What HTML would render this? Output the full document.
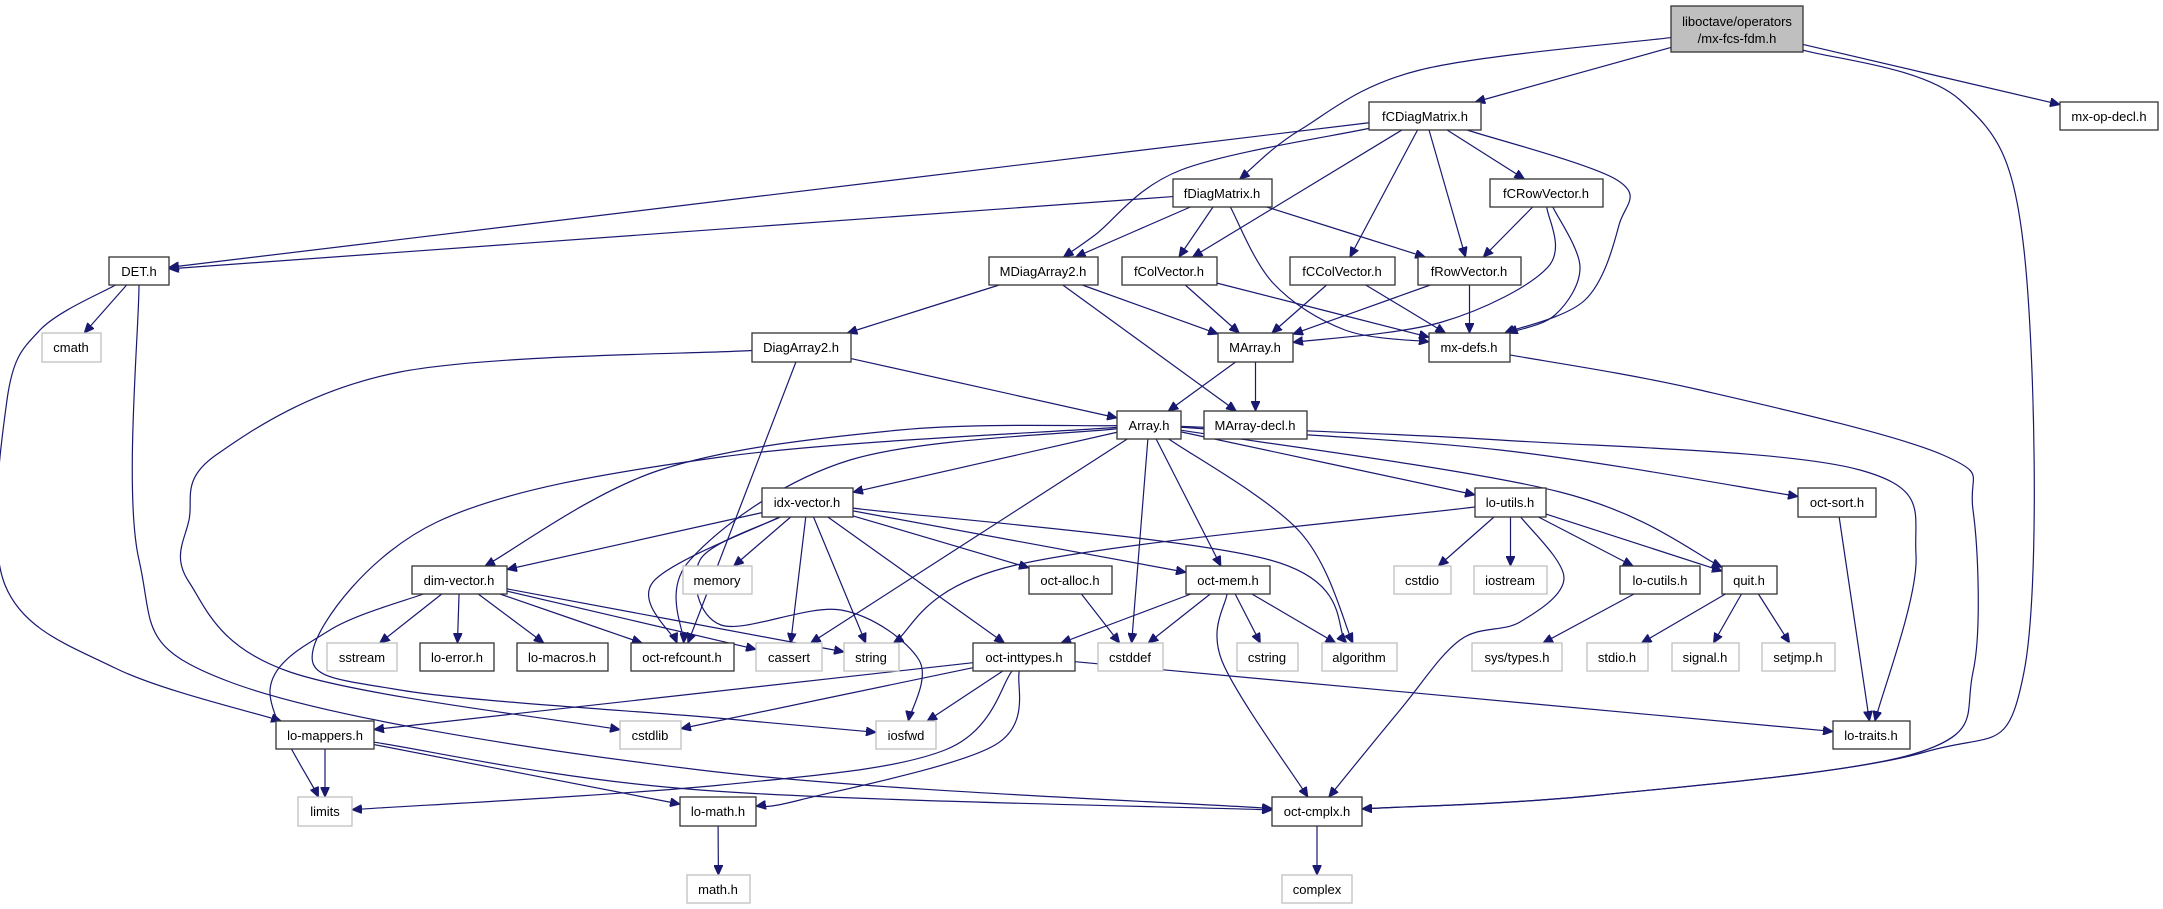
<!DOCTYPE html>
<html><head><meta charset="utf-8">
<style>
html,body{margin:0;padding:0;background:#fff;}
svg{display:block;}
text{font-family:"Liberation Sans",sans-serif;font-size:13px;fill:#000;text-anchor:middle;}
.n rect{fill:#fff;stroke:#333;stroke-width:1.3;}
.g rect{fill:#fff;stroke:#bfbfbf;stroke-width:1.3;}
.r rect{fill:#bfbfbf;stroke:#333;stroke-width:1.3;}
</style></head>
<body>
<svg id="s" width="2163" height="909" viewBox="0 0 2163 909" xmlns="http://www.w3.org/2000/svg">
<defs><marker id="a" markerWidth="11" markerHeight="9" refX="10" refY="4.5" orient="auto" markerUnits="userSpaceOnUse"><path d="M0,0 L10,4.5 L0,9 z" fill="#191970" stroke="#191970"/></marker></defs>
<g id="edges" fill="none" stroke="#191970" stroke-width="1.2"></g>
<g class="r"><rect x="1671" y="6" width="132" height="46"/><text x="1737" y="26">liboctave/operators</text><text x="1737" y="43">/mx-fcs-fdm.h</text></g>
<g class="n"><rect x="1369" y="102" width="112" height="28"/><text x="1425" y="121">fCDiagMatrix.h</text></g>
<g class="n"><rect x="2060" y="102" width="98" height="28"/><text x="2109" y="121">mx-op-decl.h</text></g>
<g class="n"><rect x="1173" y="179" width="99" height="28"/><text x="1222" y="198">fDiagMatrix.h</text></g>
<g class="n"><rect x="1490" y="179" width="113" height="28"/><text x="1546" y="198">fCRowVector.h</text></g>
<g class="n"><rect x="109" y="257" width="60" height="28"/><text x="139" y="276">DET.h</text></g>
<g class="n"><rect x="989" y="257" width="109" height="28"/><text x="1043" y="276">MDiagArray2.h</text></g>
<g class="n"><rect x="1122" y="257" width="95" height="28"/><text x="1169" y="276">fColVector.h</text></g>
<g class="n"><rect x="1290" y="257" width="105" height="28"/><text x="1342" y="276">fCColVector.h</text></g>
<g class="n"><rect x="1418" y="257" width="103" height="28"/><text x="1469" y="276">fRowVector.h</text></g>
<g class="g"><rect x="42" y="333" width="59" height="29"/><text x="71" y="352">cmath</text></g>
<g class="n"><rect x="752" y="333" width="99" height="29"/><text x="801" y="352">DiagArray2.h</text></g>
<g class="n"><rect x="1218" y="333" width="75" height="29"/><text x="1255" y="352">MArray.h</text></g>
<g class="n"><rect x="1429" y="333" width="81" height="29"/><text x="1469" y="352">mx-defs.h</text></g>
<g class="n"><rect x="1117" y="411" width="64" height="28"/><text x="1149" y="430">Array.h</text></g>
<g class="n"><rect x="1204" y="411" width="103" height="28"/><text x="1255" y="430">MArray-decl.h</text></g>
<g class="n"><rect x="762" y="488" width="91" height="29"/><text x="807" y="507">idx-vector.h</text></g>
<g class="n"><rect x="1475" y="488" width="71" height="29"/><text x="1510" y="507">lo-utils.h</text></g>
<g class="n"><rect x="1798" y="488" width="78" height="29"/><text x="1837" y="507">oct-sort.h</text></g>
<g class="n"><rect x="412" y="566" width="95" height="28"/><text x="459" y="585">dim-vector.h</text></g>
<g class="g"><rect x="683" y="566" width="69" height="28"/><text x="717" y="585">memory</text></g>
<g class="n"><rect x="1029" y="566" width="83" height="28"/><text x="1070" y="585">oct-alloc.h</text></g>
<g class="n"><rect x="1186" y="566" width="84" height="28"/><text x="1228" y="585">oct-mem.h</text></g>
<g class="g"><rect x="1394" y="566" width="57" height="28"/><text x="1422" y="585">cstdio</text></g>
<g class="g"><rect x="1474" y="566" width="73" height="28"/><text x="1510" y="585">iostream</text></g>
<g class="n"><rect x="1620" y="566" width="80" height="28"/><text x="1660" y="585">lo-cutils.h</text></g>
<g class="n"><rect x="1722" y="566" width="55" height="28"/><text x="1749" y="585">quit.h</text></g>
<g class="g"><rect x="327" y="643" width="70" height="28"/><text x="362" y="662">sstream</text></g>
<g class="n"><rect x="420" y="643" width="74" height="28"/><text x="457" y="662">lo-error.h</text></g>
<g class="n"><rect x="517" y="643" width="91" height="28"/><text x="562" y="662">lo-macros.h</text></g>
<g class="n"><rect x="631" y="643" width="103" height="28"/><text x="682" y="662">oct-refcount.h</text></g>
<g class="g"><rect x="756" y="643" width="66" height="28"/><text x="789" y="662">cassert</text></g>
<g class="g"><rect x="844" y="643" width="55" height="28"/><text x="871" y="662">string</text></g>
<g class="n"><rect x="973" y="643" width="102" height="28"/><text x="1024" y="662">oct-inttypes.h</text></g>
<g class="g"><rect x="1098" y="643" width="65" height="28"/><text x="1130" y="662">cstddef</text></g>
<g class="g"><rect x="1237" y="643" width="61" height="28"/><text x="1267" y="662">cstring</text></g>
<g class="g"><rect x="1322" y="643" width="75" height="28"/><text x="1359" y="662">algorithm</text></g>
<g class="g"><rect x="1472" y="643" width="90" height="28"/><text x="1517" y="662">sys/types.h</text></g>
<g class="g"><rect x="1587" y="643" width="61" height="28"/><text x="1617" y="662">stdio.h</text></g>
<g class="g"><rect x="1672" y="643" width="67" height="28"/><text x="1705" y="662">signal.h</text></g>
<g class="g"><rect x="1762" y="643" width="73" height="28"/><text x="1798" y="662">setjmp.h</text></g>
<g class="n"><rect x="276" y="721" width="98" height="28"/><text x="325" y="740">lo-mappers.h</text></g>
<g class="g"><rect x="620" y="721" width="61" height="28"/><text x="650" y="740">cstdlib</text></g>
<g class="g"><rect x="876" y="721" width="60" height="28"/><text x="906" y="740">iosfwd</text></g>
<g class="n"><rect x="1833" y="721" width="77" height="28"/><text x="1871" y="740">lo-traits.h</text></g>
<g class="g"><rect x="298" y="797" width="54" height="29"/><text x="325" y="816">limits</text></g>
<g class="n"><rect x="680" y="797" width="76" height="29"/><text x="718" y="816">lo-math.h</text></g>
<g class="n"><rect x="1272" y="797" width="90" height="29"/><text x="1317" y="816">oct-cmplx.h</text></g>
<g class="g"><rect x="687" y="875" width="63" height="28"/><text x="718" y="894">math.h</text></g>
<g class="g"><rect x="1282" y="875" width="70" height="28"/><text x="1317" y="894">complex</text></g>
</svg>
<script>
var N={root:[1671,6,1803,52],fCDM:[1369,102,1481,130],mxop:[2060,102,2158,130],fDM:[1173,179,1272,207],fCRV:[1490,179,1603,207],
DET:[109,257,169,285],MDA:[989,257,1098,285],fCV:[1122,257,1217,285],fCCV:[1290,257,1395,285],fRV:[1418,257,1521,285],
cmath:[42,333,101,362],DA2:[752,333,851,362],MA:[1218,333,1293,362],mxd:[1429,333,1510,362],Arr:[1117,411,1181,439],MAd:[1204,411,1307,439],
idx:[762,488,853,517],lu:[1475,488,1546,517],osort:[1798,488,1876,517],dim:[412,566,507,594],memory:[683,566,752,594],oalloc:[1029,566,1112,594],
omem:[1186,566,1270,594],cstdio:[1394,566,1451,594],iostream:[1474,566,1547,594],lcu:[1620,566,1700,594],quit:[1722,566,1777,594],
sstream:[327,643,397,671],lerr:[420,643,494,671],lmac:[517,643,608,671],oref:[631,643,734,671],cassert:[756,643,822,671],string:[844,643,899,671],
oint:[973,643,1075,671],cstddef:[1098,643,1163,671],cstring:[1237,643,1298,671],algorithm:[1322,643,1397,671],systypes:[1472,643,1562,671],
stdio:[1587,643,1648,671],signal:[1672,643,1739,671],setjmp:[1762,643,1835,671],lmap:[276,721,374,749],cstdlib:[620,721,681,749],
iosfwd:[876,721,936,749],ltr:[1833,721,1910,749],limits:[298,797,352,826],lmath:[680,797,756,826],ocx:[1272,797,1362,826],
mathh:[687,875,750,903],complex:[1282,875,1352,903]};
var E=[
['root','fDM',[[1420,70],[1300,130]]],['root','fCDM'],['root','mxop'],
['root','ocx',[[1960,100],[2024,250],[2024,672],[1925,752],[1600,795]]],
['fCDM','DET'],['fCDM','MDA',[[1181,170],[1095,235]]],['fCDM','fCV'],['fCDM','fCCV'],['fCDM','fRV'],['fCDM','fCRV'],
['fCDM','mxd',[[1617,180],[1619,225],[1585,300]]],
['fDM','DET'],['fDM','MDA'],['fDM','fCV'],['fDM','fRV'],['fDM','mxd',[[1273,283],[1345,330]]],
['fCRV','fRV'],['fCRV','MA',[[1548,267],[1442,322]]],['fCRV','mxd',[[1580,267],[1555,315]]],
['fCV','MA'],['fCV','mxd'],['fCCV','MA'],['fCCV','mxd'],['fRV','MA'],['fRV','mxd'],
['MDA','DA2'],['MDA','MA'],['MDA','MAd'],
['DA2','Arr'],['DA2','oref'],['DA2','cstdlib',[[400,372],[216,455],[189,520],[189,582],[290,672]]],
['DET','cmath'],['DET','lmap',[[40,330],[7,400],[5,585],[115,668]]],['DET','ocx',[[139,560],[230,682],[700,770]]],
['MA','Arr'],['MA','MAd'],['mxd','ocx',[[1700,390],[1943,455],[1973,510],[1973,672],[1920,752],[1600,795]]],
['Arr','dim',[[900,430],[660,470]]],['Arr','idx'],['Arr','oref',[[850,460],[690,560]]],['Arr','cassert'],['Arr','cstddef'],['Arr','omem'],
['Arr','algorithm',[[1300,532]]],['Arr','lu'],['Arr','osort',[[1500,450]]],['Arr','quit',[[1560,492]]],['Arr','ltr',[[1500,440],[1860,470],[1916,555]]],
['Arr','iosfwd',[[721,457],[437,522],[313,650],[400,690],[717,718]]],
['idx','dim'],['idx','memory'],['idx','cassert'],['idx','oref',[[653,582]]],['idx','string'],['idx','oalloc'],['idx','omem'],['idx','oint'],
['idx','algorithm',[[1270,560]]],['idx','iosfwd',[[700,560],[721,625],[841,610],[919,660]]],
['dim','sstream'],['dim','lerr'],['dim','lmac'],['dim','oref'],['dim','cassert'],['dim','string'],['dim','limits',[[330,630],[270,690]]],
['oalloc','cstddef'],['omem','oint'],['omem','cstddef'],['omem','cstring'],['omem','algorithm'],['omem','ocx',[[1222,661]]],
['oint','lmap'],['oint','cstdlib'],['oint','iosfwd'],['oint','limits',[[945,750],[721,785]]],['oint','lmath',[[995,745],[800,800]]],['oint','ltr'],
['lu','cstdio'],['lu','iostream'],['lu','lcu'],['lu','quit'],['lu','string',[[1016,565]]],['lu','ocx',[[1564,578],[1520,622],[1460,640],[1400,710]]],
['lcu','systypes'],['quit','stdio'],['quit','signal'],['quit','setjmp'],['osort','ltr'],
['lmap','limits'],['lmap','lmath'],['lmap','ocx',[[700,790]]],['lmath','mathh'],['ocx','complex']];
function ctr(b){return[(b[0]+b[2])/2,(b[1]+b[3])/2];}
function clip(b,p){var c=ctr(b),dx=p[0]-c[0],dy=p[1]-c[1],hw=(b[2]-b[0])/2,hh=(b[3]-b[1])/2;
var t=Math.min(dx?hw/Math.abs(dx):1e9,dy?hh/Math.abs(dy):1e9);return[c[0]+dx*t,c[1]+dy*t];}
var g=document.getElementById('edges'),ns='http://www.w3.org/2000/svg';
E.forEach(function(e){var s=N[e[0]],d=N[e[1]],v=e[2]||[];
var first=v.length?v[0]:ctr(d),last=v.length?v[v.length-1]:ctr(s);
var p=[clip(s,first)].concat(v,[clip(d,last)]);
var str='M'+p[0][0]+','+p[0][1];
for(var i=0;i<p.length-1;i++){var p0=p[i-1]||p[i],p1=p[i],p2=p[i+1],p3=p[i+2]||p2;
var c1=[p1[0]+(p2[0]-p0[0])/6,p1[1]+(p2[1]-p0[1])/6],c2=[p2[0]-(p3[0]-p1[0])/6,p2[1]-(p3[1]-p1[1])/6];
str+=' C'+c1[0]+','+c1[1]+' '+c2[0]+','+c2[1]+' '+p2[0]+','+p2[1];}
var el=document.createElementNS(ns,'path');el.setAttribute('d',str);el.setAttribute('marker-end','url(#a)');g.appendChild(el);});
</script>
</body></html>
